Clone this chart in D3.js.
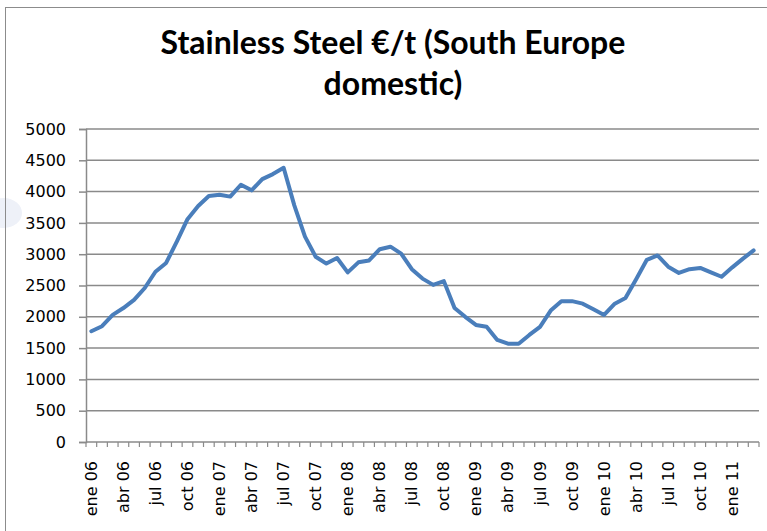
<!DOCTYPE html>
<html>
<head>
<meta charset="utf-8">
<script src="https://cdn.jsdelivr.net/npm/d3@7"></script>
<style>
body { margin: 0; background: #fff; }
svg { display: block; }
</style>
</head>
<body>
<svg id="chart" width="767" height="531"></svg>
<script>
// month names as on the axis (spanish)
var monthNames = ["ene","feb","mar","abr","may","jun","jul","ago","sep","oct","nov","dic"];
var years = ["06","07","08","09","10","11"];
// ene 06 .. mar 11
var months = [];
years.forEach(function(y){
	monthNames.forEach(function(m){
		if(months.length < 63) months.push(m + " " + y);
	});
});
var prices = [1770, 1850, 2030, 2140, 2270, 2460, 2720, 2860, 3200, 3560, 3770, 3930,
	3950, 3920, 4110, 4020, 4200, 4280, 4380, 3780, 3280, 2960, 2850, 2940,
	2710, 2870, 2900, 3080, 3120, 3010, 2760, 2610, 2510, 2570, 2140, 2000,
	1870, 1840, 1630, 1570, 1570, 1710, 1840, 2100, 2250, 2250, 2210, 2120,
	2030, 2210, 2300, 2600, 2910, 2980, 2800, 2700, 2760, 2780, 2710, 2640,
	2790, 2930, 3060];
var yTicks = [0, 500, 1000, 1500, 2000, 2500, 3000, 3500, 4000, 4500, 5000];
var titleLines = ["Stainless Steel €/t (South Europe", "domestic)"];

var svg = d3.select("#chart");

// faint smudge at the left edge of the picture
svg.append("ellipse").attr("cx", 4).attr("cy", 213).attr("rx", 18).attr("ry", 15)
	.style("fill", "#eef1f8");

// chart area border
svg.append("rect").attr("x", 5.5).attr("y", 7.5).attr("width", 800).attr("height", 600)
	.style("fill", "none").style("stroke", "#8c8c8c").style("stroke-width", 1);

svg.selectAll("text.title").data(titleLines).enter().append("text")
	.attr("class", "title")
	.attr("x", 393).attr("y", function(d, i){ return 54 + i * 41; })
	.attr("text-anchor", "middle")
	.style("font-family", "Lato, sans-serif")
	.style("font-weight", "bold")
	.style("font-size", "32px")
	.text(function(d){ return d; });

var x = d3.scaleBand().domain(months).range([86, 759]).padding(0);
var y = d3.scaleLinear().domain([0, 5000]).range([442, 129]);

// gridlines
svg.append("g").selectAll("line").data(yTicks.slice(1)).enter().append("line")
	.attr("x1", 86).attr("x2", 759)
	.attr("y1", function(d){ return y(d); }).attr("y2", function(d){ return y(d); })
	.style("stroke", "#8a8a8a").style("stroke-width", 1.5);

// y axis
var yAxis = svg.append("g").attr("transform", "translate(86,0)")
	.call(d3.axisLeft(y).tickValues(yTicks).tickFormat(d3.format("d")).tickSize(7).tickPadding(13));
yAxis.select(".domain").style("stroke", "#8a8a8a").style("stroke-width", 1.5);
yAxis.selectAll(".tick line").style("stroke", "#8a8a8a").style("stroke-width", 1.5);
yAxis.selectAll("text").style("font-family", "DejaVu Sans, sans-serif")
	.style("font-size", "16px").style("fill", "#000");

// x axis: ticks between categories, labels every 3 months
svg.append("line").attr("x1", 86).attr("x2", 759).attr("y1", y(0)).attr("y2", y(0))
	.style("stroke", "#8a8a8a").style("stroke-width", 1.5);
svg.append("g").selectAll("line").data(d3.range(months.length + 1)).enter().append("line")
	.attr("x1", function(i){ return 86 + i * x.step(); })
	.attr("x2", function(i){ return 86 + i * x.step(); })
	.attr("y1", y(0)).attr("y2", y(0) + 5)
	.style("stroke", "#8a8a8a").style("stroke-width", 1.2);

svg.append("g").selectAll("text")
	.data(months.filter(function(d, i){ return i % 3 == 0; }))
	.enter().append("text")
	.attr("transform", function(d){
		return "translate(" + (x(d) + x.bandwidth() / 2 + 5.5) + ",461) rotate(-90)";
	})
	.attr("text-anchor", "end")
	.style("font-family", "DejaVu Sans, sans-serif")
	.style("font-size", "16px")
	.text(function(d){ return d; });

// price line
svg.append("path")
	.datum(prices)
	.attr("fill", "none")
	.attr("stroke", "#4a7ebb")
	.attr("stroke-width", 4)
	.attr("stroke-linejoin", "round")
	.attr("stroke-linecap", "round")
	.attr("d", d3.line()
		.x(function(d, i){ return x(months[i]) + x.bandwidth() / 2; })
		.y(function(d){ return y(d); }));
</script>
</body>
</html>
